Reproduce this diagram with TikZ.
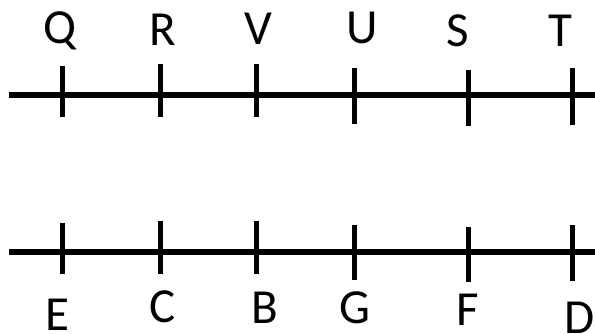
\documentclass[tikz,border=0pt]{standalone}
\usepackage{fontspec}
\setmainfont{Carlito}
\begin{document}
\begin{tikzpicture}[x=1pt,y=-1pt,
  axis/.style={line width=5.5pt,black},
  tick/.style={line width=5pt,black},
  lbl/.style={inner sep=0pt,anchor=base,
    font=\fontsize{49}{49}\selectfont}]
\useasboundingbox (0,0) rectangle (595,333);
% top line
\coordinate (tl) at (9,95);
\coordinate (tr) at (595,95);
\draw[axis] (tl) -- (tr);
\foreach \n/\x/\a/\b in {q/62/66/117, r/160/64/117, v/256/64/117, u/354/68/124, s/468/70/126, t/572/68/125}{
  \coordinate (\n1) at (\x,\a);
  \coordinate (\n2) at (\x,\b);
  \draw[tick] (\n1) -- (\n2);
}
\node[lbl] (Q) at (60,43) {Q};
\node[lbl] (R) at (163,45) {R};
\node[lbl] (V) at (258,44) {V};
\node[lbl] (U) at (362,43) {U};
\node[lbl] (S) at (458,46) {S};
\node[lbl] (T) at (560,46) {T};
% bottom line
\coordinate (bl) at (9,252);
\coordinate (br) at (595,252);
\draw[axis] (bl) -- (br);
\foreach \n/\x/\a/\b in {e/62/223/274, c/160/221/274, b/256/221/274, g/354/225/280, f/468/227/282, d/572/225/281}{
  \coordinate (\n1) at (\x,\a);
  \coordinate (\n2) at (\x,\b);
  \draw[tick] (\n1) -- (\n2);
}
\node[lbl] (E) at (57,330) {E};
\node[lbl] (C) at (163,322) {C};
\node[lbl] (B) at (265,323) {B};
\node[lbl] (G) at (355,323) {G};
\node[lbl] (F) at (468,325) {F};
\node[lbl] (D) at (580,333) {D};
\end{tikzpicture}
\end{document}
